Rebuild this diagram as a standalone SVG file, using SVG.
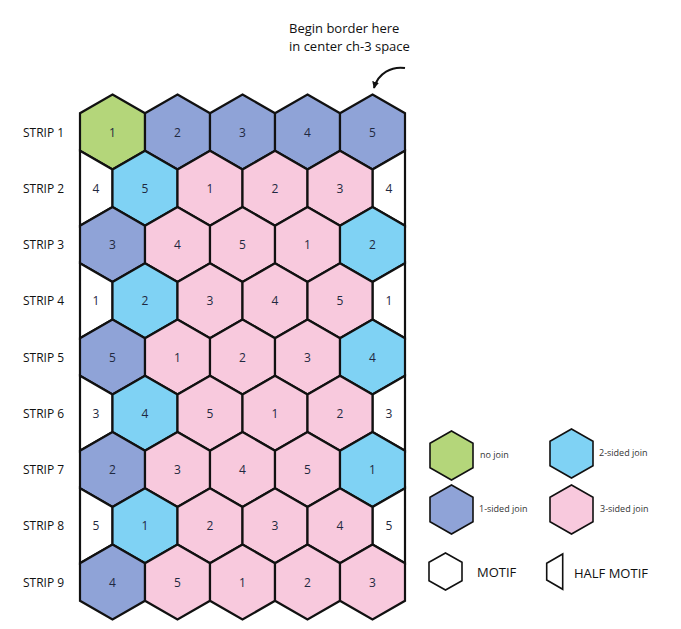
<svg xmlns="http://www.w3.org/2000/svg" xmlns:xlink="http://www.w3.org/1999/xlink" width="681" height="629" viewBox="0 0 681 629">
<style>
.hx{stroke:#111;stroke-width:2.2;stroke-linejoin:miter}
.g{fill:#b4d67a}.b{fill:#8fa3d7}.c{fill:#7fd2f4}.p{fill:#f8c9dd}.w{fill:#fff}
.n{font-family:"Open Sans","Liberation Sans",sans-serif;font-size:12px;fill:#1f2940;text-anchor:middle}
.lb{font-family:"Open Sans","Liberation Sans",sans-serif;font-size:12px;fill:#111}
.lg{font-family:"Open Sans","Liberation Sans",sans-serif;font-size:9px;fill:#333}
.lk{font-family:"Open Sans","Liberation Sans",sans-serif;font-size:13px;fill:#111}
</style>
<defs>
<polygon id="h" points="0,-37.5 32.5,-18.75 32.5,18.75 0,37.5 -32.5,18.75 -32.5,-18.75"/>
<marker id="ah" viewBox="0 0 10 10" refX="9" refY="5" markerWidth="7" markerHeight="7" orient="auto" markerUnits="userSpaceOnUse"><path d="M0,0 L10,5 L0,10 Z" fill="#111"/></marker>
</defs>
<rect width="681" height="629" fill="#fff"/>

<g id="labels">
<text class="lb" x="23" y="136.5">STRIP 1</text>
<text class="lb" x="23" y="192.7">STRIP 2</text>
<text class="lb" x="23" y="249">STRIP 3</text>
<text class="lb" x="23" y="305.2">STRIP 4</text>
<text class="lb" x="23" y="361.5">STRIP 5</text>
<text class="lb" x="23" y="417.7">STRIP 6</text>
<text class="lb" x="23" y="474">STRIP 7</text>
<text class="lb" x="23" y="530.2">STRIP 8</text>
<text class="lb" x="23" y="586.5">STRIP 9</text>
</g>

<g id="strip1">
<use xlink:href="#h" class="hx g" x="112.5" y="132"/><use xlink:href="#h" class="hx b" x="177.5" y="132"/><use xlink:href="#h" class="hx b" x="242.5" y="132"/><use xlink:href="#h" class="hx b" x="307.5" y="132"/><use xlink:href="#h" class="hx b" x="372.5" y="132"/>
<text class="n" x="112.5" y="136.5">1</text><text class="n" x="177.5" y="136.5">2</text><text class="n" x="242.5" y="136.5">3</text><text class="n" x="307.5" y="136.5">4</text><text class="n" x="372.5" y="136.5">5</text>
</g>
<g id="strip2">
<polygon class="hx w" points="80,150.75 112.5,169.5 112.5,207 80,225.75"/><polygon class="hx w" points="405,150.75 372.5,169.5 372.5,207 405,225.75"/>
<use xlink:href="#h" class="hx c" x="145" y="188.25"/><use xlink:href="#h" class="hx p" x="210" y="188.25"/><use xlink:href="#h" class="hx p" x="275" y="188.25"/><use xlink:href="#h" class="hx p" x="340" y="188.25"/>
<text class="n" x="96" y="192.7">4</text><text class="n" x="145" y="192.7">5</text><text class="n" x="210" y="192.7">1</text><text class="n" x="275" y="192.7">2</text><text class="n" x="340" y="192.7">3</text><text class="n" x="389" y="192.7">4</text>
</g>
<g id="strip3">
<use xlink:href="#h" class="hx b" x="112.5" y="244.5"/><use xlink:href="#h" class="hx p" x="177.5" y="244.5"/><use xlink:href="#h" class="hx p" x="242.5" y="244.5"/><use xlink:href="#h" class="hx p" x="307.5" y="244.5"/><use xlink:href="#h" class="hx c" x="372.5" y="244.5"/>
<text class="n" x="112.5" y="249">3</text><text class="n" x="177.5" y="249">4</text><text class="n" x="242.5" y="249">5</text><text class="n" x="307.5" y="249">1</text><text class="n" x="372.5" y="249">2</text>
</g>
<g id="strip4">
<polygon class="hx w" points="80,263.25 112.5,282 112.5,319.5 80,338.25"/><polygon class="hx w" points="405,263.25 372.5,282 372.5,319.5 405,338.25"/>
<use xlink:href="#h" class="hx c" x="145" y="300.75"/><use xlink:href="#h" class="hx p" x="210" y="300.75"/><use xlink:href="#h" class="hx p" x="275" y="300.75"/><use xlink:href="#h" class="hx p" x="340" y="300.75"/>
<text class="n" x="96" y="305.2">1</text><text class="n" x="145" y="305.2">2</text><text class="n" x="210" y="305.2">3</text><text class="n" x="275" y="305.2">4</text><text class="n" x="340" y="305.2">5</text><text class="n" x="389" y="305.2">1</text>
</g>
<g id="strip5">
<use xlink:href="#h" class="hx b" x="112.5" y="357"/><use xlink:href="#h" class="hx p" x="177.5" y="357"/><use xlink:href="#h" class="hx p" x="242.5" y="357"/><use xlink:href="#h" class="hx p" x="307.5" y="357"/><use xlink:href="#h" class="hx c" x="372.5" y="357"/>
<text class="n" x="112.5" y="361.5">5</text><text class="n" x="177.5" y="361.5">1</text><text class="n" x="242.5" y="361.5">2</text><text class="n" x="307.5" y="361.5">3</text><text class="n" x="372.5" y="361.5">4</text>
</g>
<g id="strip6">
<polygon class="hx w" points="80,375.75 112.5,394.5 112.5,432 80,450.75"/><polygon class="hx w" points="405,375.75 372.5,394.5 372.5,432 405,450.75"/>
<use xlink:href="#h" class="hx c" x="145" y="413.25"/><use xlink:href="#h" class="hx p" x="210" y="413.25"/><use xlink:href="#h" class="hx p" x="275" y="413.25"/><use xlink:href="#h" class="hx p" x="340" y="413.25"/>
<text class="n" x="96" y="417.7">3</text><text class="n" x="145" y="417.7">4</text><text class="n" x="210" y="417.7">5</text><text class="n" x="275" y="417.7">1</text><text class="n" x="340" y="417.7">2</text><text class="n" x="389" y="417.7">3</text>
</g>
<g id="strip7">
<use xlink:href="#h" class="hx b" x="112.5" y="469.5"/><use xlink:href="#h" class="hx p" x="177.5" y="469.5"/><use xlink:href="#h" class="hx p" x="242.5" y="469.5"/><use xlink:href="#h" class="hx p" x="307.5" y="469.5"/><use xlink:href="#h" class="hx c" x="372.5" y="469.5"/>
<text class="n" x="112.5" y="474">2</text><text class="n" x="177.5" y="474">3</text><text class="n" x="242.5" y="474">4</text><text class="n" x="307.5" y="474">5</text><text class="n" x="372.5" y="474">1</text>
</g>
<g id="strip8">
<polygon class="hx w" points="80,488.25 112.5,507 112.5,544.5 80,563.25"/><polygon class="hx w" points="405,488.25 372.5,507 372.5,544.5 405,563.25"/>
<use xlink:href="#h" class="hx c" x="145" y="525.75"/><use xlink:href="#h" class="hx p" x="210" y="525.75"/><use xlink:href="#h" class="hx p" x="275" y="525.75"/><use xlink:href="#h" class="hx p" x="340" y="525.75"/>
<text class="n" x="96" y="530.2">5</text><text class="n" x="145" y="530.2">1</text><text class="n" x="210" y="530.2">2</text><text class="n" x="275" y="530.2">3</text><text class="n" x="340" y="530.2">4</text><text class="n" x="389" y="530.2">5</text>
</g>
<g id="strip9">
<use xlink:href="#h" class="hx b" x="112.5" y="582"/><use xlink:href="#h" class="hx p" x="177.5" y="582"/><use xlink:href="#h" class="hx p" x="242.5" y="582"/><use xlink:href="#h" class="hx p" x="307.5" y="582"/><use xlink:href="#h" class="hx p" x="372.5" y="582"/>
<text class="n" x="112.5" y="586.5">4</text><text class="n" x="177.5" y="586.5">5</text><text class="n" x="242.5" y="586.5">1</text><text class="n" x="307.5" y="586.5">2</text><text class="n" x="372.5" y="586.5">3</text>
</g>

<g id="note">
<text class="lk" x="289" y="33">Begin border here</text>
<text class="lk" x="289" y="51">in center ch-3 space</text>
</g>
<g id="connectors">
<path d="M405,68 C392,66 378,73 374,88" fill="none" stroke="#111" stroke-width="2" marker-end="url(#ah)"/>
</g>

<g id="legend">
<polygon class="hx g" stroke-width="1.6" style="stroke-width:1.6" points="451.5,431 473,443.25 473,467.75 451.5,480 430,467.75 430,443.25"/>
<text class="lg" x="480" y="458">no join</text>
<polygon class="hx c" style="stroke-width:1.6" points="571.5,429 593,441.25 593,465.75 571.5,478 550,465.75 550,441.25"/>
<text class="lg" x="599" y="456">2-sided join</text>
<polygon class="hx b" style="stroke-width:1.6" points="451.5,485 473,497.25 473,521.75 451.5,534 430,521.75 430,497.25"/>
<text class="lg" x="479" y="512">1-sided join</text>
<polygon class="hx p" style="stroke-width:1.6" points="571.5,485 593,497.25 593,521.75 571.5,534 550,521.75 550,497.25"/>
<text class="lg" x="600" y="512">3-sided join</text>
<polygon class="hx w" style="stroke-width:1.6" points="445.5,553 462,562.25 462,580.75 445.5,590 429,580.75 429,562.25"/>
<text class="lb" x="477" y="577" style="font-size:13px">MOTIF</text>
<polygon class="hx w" style="stroke-width:1.6" points="546.7,563.3 562.7,554 562.7,589.3 546.7,580"/>
<text class="lb" x="574" y="578" style="font-size:13px">HALF MOTIF</text>
</g>
</svg>
